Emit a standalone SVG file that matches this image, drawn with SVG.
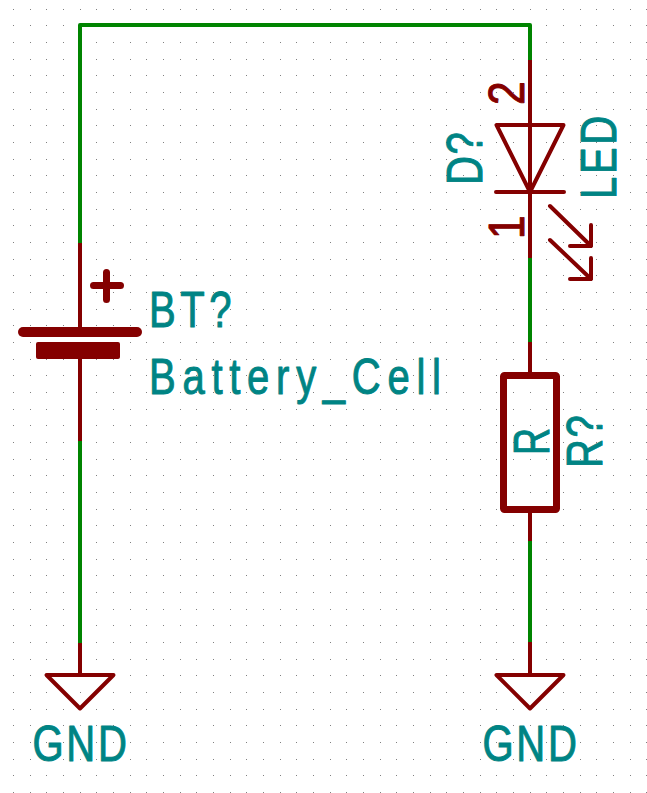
<svg xmlns="http://www.w3.org/2000/svg" width="647" height="793" viewBox="0 0 647 793">
<style>
.wire{fill:none;stroke:#008400;stroke-width:4;stroke-linecap:round;stroke-linejoin:round}
.sym{fill:none;stroke:#840000;stroke-width:4;stroke-linecap:round;stroke-linejoin:round}
.pin{fill:none;stroke:#840000;stroke-width:4;stroke-linecap:butt}
text{font-family:"Liberation Sans",Arial,sans-serif;font-size:50px;fill:#008484;stroke:#008484;stroke-width:1;stroke-linejoin:round}
.num{fill:#840000;stroke:#840000}
</style>
<defs>
<pattern id="grid" width="50" height="50" patternUnits="userSpaceOnUse">
<path fill="#808080" d="M13 9h1v1h-1zM30 9h1v1h-1zM46 9h1v1h-1zM13 25h1v1h-1zM30 25h1v1h-1zM46 25h1v1h-1zM13 42h1v1h-1zM30 42h1v1h-1zM46 42h1v1h-1z"/>
</pattern>
</defs>
<rect width="647" height="793" fill="#ffffff"/>
<rect width="647" height="793" fill="url(#grid)"/>
<g id="connectors">
<path class="wire" d="M80 243V25H530V60"/>
<path class="wire" d="M80 441V643"/>
<path class="wire" d="M530 258V342"/>
<path class="wire" d="M530 541V642"/>
</g>
<g id="battery">
<path class="pin" d="M80 243V327M80 359V441"/>
<path class="sym" style="stroke-width:10" d="M23 332H137"/>
<rect x="36" y="342" width="84" height="17" rx="2" fill="#840000"/>
<path class="sym" style="stroke-width:7" d="M93.500 285.500H120.500M106.500 272.500V299.500"/>
<text transform="translate(149 327) scale(.8 1)" textLength="103">BT?</text>
<text transform="translate(149 394) scale(.8 1)" textLength="365">Battery_Cell</text>
</g>
<g id="led">
<path class="pin" d="M530 60V258"/>
<path class="sym" d="M496.500 125H563.500L530 192ZM496 192H564"/>
<path class="sym" d="M550 206L591 246M591 225V246H570M550 240L591 279M591 258V279H570"/>
<text class="num" transform="translate(524 105) rotate(-90) scale(.85 1)">2</text>
<text class="num" transform="translate(524 239) rotate(-90) scale(.85 1)">1</text>
<text transform="translate(482 185) rotate(-90) scale(.8 1)" textLength="66">D?</text>
<text transform="translate(616 199) rotate(-90) scale(.8 1)" textLength="104">LED</text>
</g>
<g id="resistor">
<path class="pin" d="M530 342V375M530 509V541"/>
<rect x="503.500" y="375.500" width="53" height="134" rx="1" fill="none" stroke="#840000" stroke-width="7"/>
<text transform="translate(549 455) rotate(-90) scale(.75 1)">R</text>
<text transform="translate(602 468) rotate(-90) scale(.8 1)" textLength="66">R?</text>
</g>
<g id="gnd1">
<path class="pin" d="M80 643V675"/>
<path class="sym" d="M46.500 675H113.500L80 708.500Z"/>
<text transform="translate(32.500 761) scale(.8 1)" textLength="118">GND</text>
</g>
<g id="gnd2">
<path class="pin" d="M530 642V675"/>
<path class="sym" d="M496.500 675H563.500L530 708.500Z"/>
<text transform="translate(482.500 761) scale(.8 1)" textLength="118">GND</text>
</g>
</svg>
